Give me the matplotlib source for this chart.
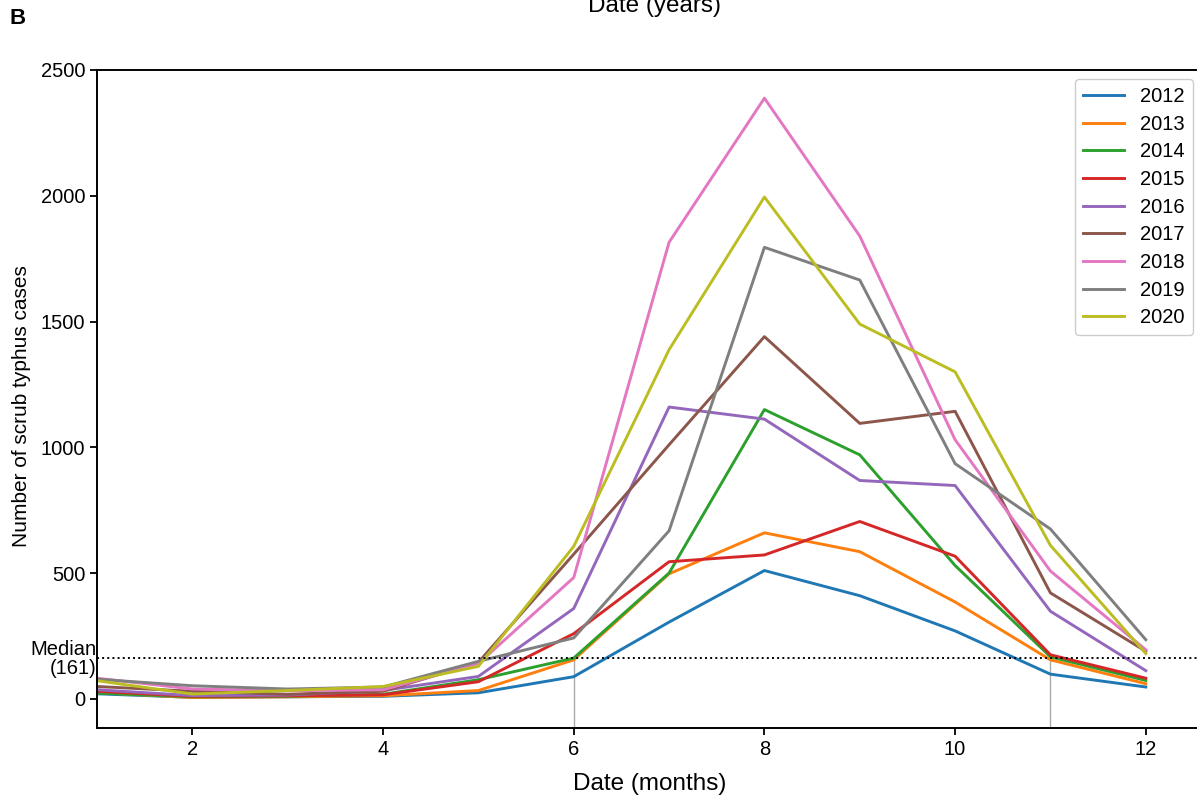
import matplotlib.pyplot as plt

plt.rcParams['font.family'] = ['Liberation Sans', 'DejaVu Sans']

months = [1, 2, 3, 4, 5, 6, 7, 8, 9, 10, 11, 12]
years = ['2012', '2013', '2014', '2015', '2016', '2017', '2018', '2019', '2020']

cases_2012 = [20, 6, 8, 10, 24, 88, 305, 510, 410, 270, 98, 47]
cases_2013 = [25, 5, 8, 12, 33, 155, 497, 660, 585, 385, 155, 60]
cases_2014 = [23, 8, 10, 18, 76, 162, 500, 1150, 970, 530, 167, 73]
cases_2015 = [30, 10, 12, 16, 68, 259, 545, 572, 705, 567, 175, 82]
cases_2016 = [36, 13, 15, 33, 89, 359, 1160, 1112, 868, 848, 348, 112]
cases_2017 = [49, 30, 18, 30, 145, 575, 1010, 1440, 1095, 1143, 421, 189]
cases_2018 = [82, 39, 32, 36, 140, 482, 1815, 2388, 1840, 1030, 508, 195]
cases_2019 = [78, 52, 39, 47, 149, 242, 668, 1795, 1665, 935, 675, 235]
cases_2020 = [72, 19, 33, 49, 129, 606, 1388, 1995, 1490, 1300, 610, 180]

all_cases = [cases_2012, cases_2013, cases_2014, cases_2015, cases_2016,
             cases_2017, cases_2018, cases_2019, cases_2020]
median = 161
cross_months = [6, 11]

fig = plt.figure(figsize=(11.97, 7.98), dpi=100)
ax = fig.add_axes([97 / 1197, 70 / 798, 1106 / 1197, 658 / 798])

for yr, vals in zip(years, all_cases):
    ax.plot(months, vals, lw=2.1, label=yr)

ax.axhline(median, color='black', ls=':', lw=1.4)
ymin = -116
for m in cross_months:
    ax.plot([m, m], [ymin, median], color='darkgray', lw=1, zorder=0)

ax.text(0.99, median - 3, 'Median\n(161)', ha='right', va='center', fontsize=14.5,
        linespacing=0.98, clip_on=False)

ax.set_xlim(1, 12.6)
ax.set_ylim(ymin, 2500)
ax.set_xticks([2, 4, 6, 8, 10, 12])
ax.set_yticks([0, 500, 1000, 1500, 2000, 2500])
ax.tick_params(labelsize=14.5, width=1.3, length=5)
ax.spines['right'].set_visible(False)
for s in ['left', 'bottom', 'top']:
    ax.spines[s].set_linewidth(1.4)

ax.set_xlabel('Date (months)', fontsize=17.5, labelpad=10)
ax.set_ylabel('Number of scrub typhus cases', fontsize=15, labelpad=7)
ax.yaxis.label.set_y(0.489)
ax.legend(loc='upper right', bbox_to_anchor=(1193 / 1197, 1 - 79 / 798),
          bbox_transform=fig.transFigure, borderaxespad=0, fontsize=14.5,
          handlelength=2.05, labelspacing=0.43, framealpha=1)

fig.text(0.008, 0.977, 'B', fontsize=16, fontweight='bold', va='center')
fig.text(0.547, 0.993, 'Date (years)', fontsize=17.5, ha='center', va='center')

fig.savefig('out.png', dpi=100)
